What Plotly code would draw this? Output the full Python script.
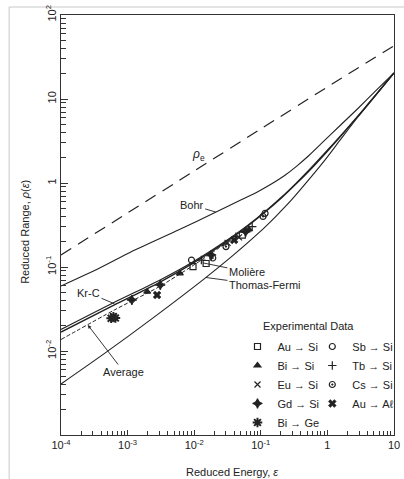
import math
import plotly.graph_objects as go

# ---------------- data ----------------
rho_e_eps = [1e-4, 1e-3, 1e-2, 1e-1, 1, 10]
rho_e_val = [0.139, 0.44, 1.39, 4.4, 13.9, 43.0]

bohr_eps = [1e-4, 3.81e-4, 1.12e-3, 5.78e-3, 0.0213, 0.0527, 0.0931, 0.146, 0.228,
            0.343, 0.533, 0.859, 1.58, 2.82, 5.2, 10]
bohr_rho = [0.0594, 0.0973, 0.151, 0.275, 0.452, 0.64, 0.80, 0.98, 1.23,
            1.58, 2.14, 3.08, 4.90, 7.60, 12.3, 20.4]

moliere_eps = [1e-4, 6.34e-4, 2.93e-3, 9.64e-3, 0.0317, 0.0625, 0.1164, 0.2056,
               0.343, 0.571, 0.983, 1.875, 3.70, 10]
moliere_rho = [0.01683, 0.0354, 0.0649, 0.111, 0.205, 0.304, 0.451, 0.668,
               0.984, 1.48, 2.36, 4.20, 7.83, 20.4]

krc_eps = [1e-4, 6.34e-4, 2.93e-3, 9.64e-3, 0.0317, 0.0625, 0.1164, 0.2056,
           0.343, 0.571, 0.983, 1.875, 3.70, 10]
krc_rho = [0.01803, 0.0380, 0.0686, 0.1153, 0.211, 0.311, 0.459, 0.681,
           1.005, 1.52, 2.42, 4.27, 7.96, 20.4]

avg_eps = [1e-4, 6.34e-4, 2.93e-3, 9.64e-3, 0.0317]
avg_rho = [0.0137, 0.0308, 0.0578, 0.1042, 0.1985]

tf_eps = [1e-4, 4.51e-4, 2.47e-3, 0.01352, 0.0375, 0.0939, 0.173, 0.289, 0.515,
          0.897, 1.58, 2.79, 5.20, 10]
tf_rho = [0.00405, 0.00936, 0.0251, 0.0702, 0.1355, 0.256, 0.410, 0.628, 1.072,
          1.83, 3.30, 5.94, 10.9, 20.4]

# experimental data sets
au_si_eps = [9.6e-3, 0.0151, 0.0528]
au_si_rho = [0.101, 0.11, 0.24]
bi_si_eps = [1.97e-3, 6.1e-3, 0.0663]
bi_si_rho = [0.0508, 0.084, 0.28]
eu_si_eps = [0.0317, 0.047]
eu_si_rho = [0.194, 0.225]
gd_si_eps = [1.16e-3, 3.1e-3, 0.018, 0.0592]
gd_si_rho = [0.0405, 0.061, 0.139, 0.263]
bi_ge_eps = [5.66e-4, 6.12e-4, 6.56e-4]
bi_ge_rho = [0.0245, 0.0256, 0.0247]
sb_si_eps = [9.1e-3, 0.116]
sb_si_rho = [0.121, 0.435]
tb_si_eps = [0.0128, 0.0423, 0.0743]
tb_si_rho = [0.121, 0.23, 0.302]
cs_si_eps = [0.019, 0.030, 0.108]
cs_si_rho = [0.128, 0.175, 0.40]
au_al_eps = [2.77e-3, 0.0398]
au_al_rho = [0.0464, 0.21]

x_decades = [1e-4, 1e-3, 1e-2, 1e-1, 1, 10]
x_labels = ["10<sup>-4</sup>", "10<sup>-3</sup>", "10<sup>-2</sup>", "10<sup>-1</sup>", "1", "10"]
y_decades = [1e-2, 1e-1, 1, 10, 100]
y_labels = ["10<sup>-2</sup>", "10<sup>-1</sup>", "1", "10", "10<sup>2</sup>"]

FONT = "Liberation Sans Narrow, Liberation Sans, Arial, sans-serif"
INK = "#222222"


def minor_vals(lo_exp, hi_exp):
    vals = []
    for e in range(lo_exp, hi_exp):
        for m in range(2, 10):
            vals.append(m * 10.0 ** e)
    return vals


fig = go.Figure()


def curve(x, y, dash="solid", width=1.1):
    fig.add_trace(go.Scatter(x=x, y=y, mode="lines", showlegend=False,
                             line=dict(color=INK, width=width, dash=dash,
                                       shape="spline", smoothing=0.7),
                             hoverinfo="skip"))


curve(rho_e_eps, rho_e_val, dash="12px,8px", width=1.2)
curve(bohr_eps, bohr_rho)
curve(tf_eps, tf_rho)
curve(krc_eps, krc_rho, width=1.2)
curve(moliere_eps, moliere_rho, width=1.4)
curve(avg_eps, avg_rho, dash="4px,2px", width=1.0)


def points(name, x, y, symbol, legend, size=6, lw=1.2):
    fig.add_trace(go.Scatter(x=x, y=y, mode="markers", name=name, legend=legend,
                             marker=dict(symbol=symbol, size=size, color=INK,
                                         line=dict(color=INK, width=lw))))


points("Au → Si", au_si_eps, au_si_rho, "square-open", "legend")
points("Bi → Si", bi_si_eps, bi_si_rho, "triangle-up", "legend")
points("Eu → Si", eu_si_eps, eu_si_rho, "x-thin-open", "legend")
points("Gd → Si", gd_si_eps, gd_si_rho, "star-diamond", "legend", size=7)
points("Bi → Ge", bi_ge_eps, bi_ge_rho, "asterisk-open", "legend", size=8, lw=2)
points("Sb → Si", sb_si_eps, sb_si_rho, "circle-open", "legend2")
points("Tb → Si", tb_si_eps, tb_si_rho, "cross-thin-open", "legend2")
points("Cs → Si", cs_si_eps, cs_si_rho, "circle-open-dot", "legend2")
points("Au → Aℓ", au_al_eps, au_al_rho, "x", "legend2", size=7, lw=0.5)

L = math.log10


def paper_note(text, px, py, angle=0, size=11):
    return dict(xref="paper", yref="paper", x=(px - 60.7) / 338.3, y=(435 - py) / 420,
                xanchor="center", yanchor="middle", text=text, showarrow=False,
                textangle=angle, font=dict(size=size))


annotations = [
    dict(x=L(0.0115), y=L(2.15), text="<i>ρ</i><sub>e</sub>", showarrow=False,
         font=dict(size=12)),
    dict(x=L(0.021), y=L(0.452), text="Bohr", showarrow=True, arrowhead=0,
         arrowwidth=0.9, arrowcolor=INK, ax=-24, ay=-7),
    dict(x=L(6.35e-4), y=L(0.0365), text="Kr-C", showarrow=True, arrowhead=0,
         arrowwidth=0.9, arrowcolor=INK, ax=-26, ay=-11),
    dict(x=L(0.0135), y=L(0.112), text="Molière", showarrow=True, arrowhead=0,
         arrowwidth=0.9, arrowcolor=INK, ax=44, ay=9),
    dict(x=L(0.015), y=L(0.075), text="Thomas-Fermi", showarrow=True, arrowhead=0,
         arrowwidth=0.9, arrowcolor=INK, ax=59, ay=8),
    dict(x=L(2.53e-4), y=L(0.0204), text="Average", showarrow=True, arrowhead=2,
         arrowsize=0.8, arrowwidth=0.9, arrowcolor=INK, ax=36, ay=47),
    paper_note("Experimental Data", 312, 326),
    paper_note("Reduced Energy, <i>ε</i>", 234, 472),
    paper_note("Reduced Range, <i>ρ</i>(<i>ε</i>)", 24, 232, angle=-90),
]

fig.update_layout(
    width=404, height=479,
    margin=dict(l=61, r=5, t=15, b=44),
    paper_bgcolor="white", plot_bgcolor="white",
    font=dict(family=FONT, size=11, color=INK),
    annotations=annotations,
    legend=dict(x=(240 - 60.7) / 338.3, y=(435 - 332) / 420, xanchor="left", yanchor="top",
                bgcolor="rgba(0,0,0,0)", font=dict(size=11), tracegroupgap=0),
    legend2=dict(x=(316 - 60.7) / 338.3, y=(435 - 332) / 420, xanchor="left", yanchor="top",
                 bgcolor="rgba(0,0,0,0)", font=dict(size=11), tracegroupgap=0),
    shapes=[dict(type="rect", xref="paper", yref="paper",
                 x0=(8 - 60.7) / 338.3, x1=(410 - 60.7) / 338.3,
                 y0=(435 - 485) / 420, y1=(435 - 7) / 420,
                 line=dict(color="#c8c8c8", width=1), layer="below")],
)

fig.update_xaxes(type="log", range=[-4, 1], showgrid=False, zeroline=False,
                 showline=True, linecolor="#333", linewidth=1, mirror=True,
                 tickvals=x_decades, ticktext=x_labels, ticks="inside", ticklen=5,
                 tickcolor="#333", tickfont=dict(size=11), ticklabeloverflow="allow",
                 minor=dict(tickvals=minor_vals(-4, 1), ticks="inside", ticklen=4,
                            tickcolor="#333", showgrid=False))
fig.update_yaxes(type="log", range=[-3, 2], showgrid=False, zeroline=False,
                 showline=True, linecolor="#333", linewidth=1, mirror=True,
                 tickvals=y_decades, ticktext=y_labels, ticks="inside", ticklen=7,
                 tickcolor="#333", tickangle=-90, tickfont=dict(size=11),
                 ticklabeloverflow="allow",
                 minor=dict(tickvals=minor_vals(-3, 2), ticks="inside", ticklen=5,
                            tickcolor="#333", showgrid=False))

fig.write_html("out.html", config={"displayModeBar": False},
               post_script="document.body.style.margin='0';")
